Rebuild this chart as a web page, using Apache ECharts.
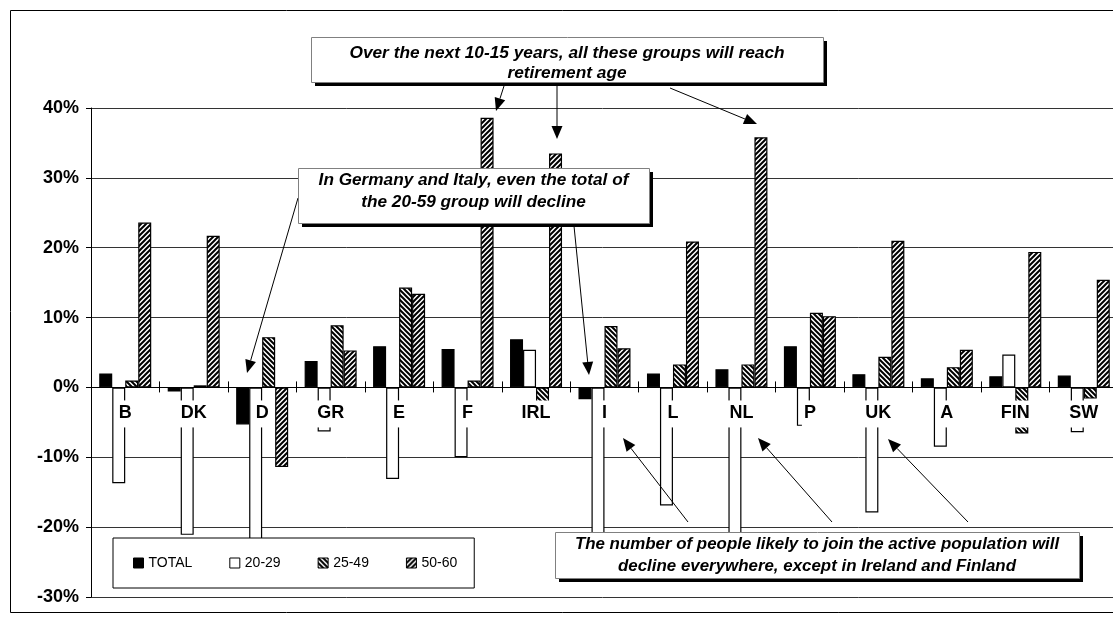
<!DOCTYPE html>
<html>
<head>
<meta charset="utf-8">
<title>Change in working-age population by group</title>
<script src="https://cdn.jsdelivr.net/npm/echarts@6/dist/echarts.min.js"></script>
<style>
  html, body { margin: 0; padding: 0; background: #fff; }
  #chart { width: 1113px; height: 618px; }
</style>
</head>
<body>
<div id="chart"></div>
<script>
// Countries along the category axis
const countries = ['B', 'DK', 'D', 'GR', 'E', 'F', 'IRL', 'I', 'L', 'NL', 'P', 'UK', 'A', 'FIN', 'SW'];

// Percentage change per group
const seriesNames = ['TOTAL', '20-29', '25-49', '50-60'];
const totalGroup = [2.0, -0.6, -5.3, 3.8, 5.9, 5.5, 6.9, -1.7, 2.0, 2.6, 5.9, 1.9, 1.3, 1.6, 1.7];
const group2029 = [-13.7, -21.1, -24.0, -6.3, -13.1, -10.0, 5.4, -24.0, -16.9, -24.0, -5.5, -17.9, -8.5, 4.7, -6.4];
const group2549 = [1.0, 0.3, 7.2, 8.9, 14.3, 1.0, -2.2, 8.8, 3.3, 3.3, 10.7, 4.4, 2.9, -6.6, -1.6];
const group5060 = [23.6, 21.7, -11.4, 5.3, 13.4, 38.6, 33.5, 5.6, 20.9, 35.8, 10.2, 21.0, 5.4, 19.4, 15.4];

// Value axis range (percent)
const yMin = -30;
const yMax = 40;
const yStep = 10;

const FONT = '"Liberation Sans", Arial, sans-serif';

// Small repeating diagonal hatch tiles
function hatch(forward) {
  const s = 5;
  const c = document.createElement('canvas');
  c.width = s; c.height = s;
  const g = c.getContext('2d');
  g.fillStyle = '#fff';
  g.fillRect(0, 0, s, s);
  g.strokeStyle = '#000';
  g.lineWidth = 2;
  g.beginPath();
  if (forward) {
    g.moveTo(-1, s + 1); g.lineTo(s + 1, -1);
    g.moveTo(-2, 2); g.lineTo(2, -2);
    g.moveTo(s - 2, s + 2); g.lineTo(s + 2, s - 2);
  } else {
    g.moveTo(-1, -1); g.lineTo(s + 1, s + 1);
    g.moveTo(s - 2, -2); g.lineTo(s + 2, 2);
    g.moveTo(-2, s - 2); g.lineTo(2, s + 2);
  }
  g.stroke();
  return { image: c, repeat: 'repeat' };
}

const fills = ['#000', '#fff', hatch(false), hatch(true)];
const values = [totalGroup, group2029, group2549, group5060];

const series = seriesNames.map((name, i) => ({
  name: name,
  type: 'bar',
  xAxisIndex: 0,
  yAxisIndex: 0,
  data: values[i],
  barWidth: 13,
  barGap: '0%',
  itemStyle: { color: fills[i], borderColor: '#000', borderWidth: 1.2 },
  emphasis: { disabled: true }
}));

// Annotation callouts: box with drop shadow and centred bold-italic text
function callout(x, y, w, h, lines, cx, lineYs, size) {
  const els = [
    { type: 'rect', z: 101, shape: { x: x + 4, y: y + 4, width: w, height: h }, style: { fill: '#000' } },
    { type: 'rect', z: 102, shape: { x: x + 0.5, y: y + 0.5, width: w, height: h }, style: { fill: '#fff', stroke: '#808080', lineWidth: 1 } }
  ];
  lines.forEach((t, k) => {
    els.push({
      type: 'text', z: 103, x: cx, y: lineYs[k],
      style: { text: t, fill: '#000', font: 'italic bold ' + size + 'px ' + FONT, align: 'center', verticalAlign: 'middle' }
    });
  });
  return els;
}

function arrow(x1, y1, x2, y2) {
  const dx = x2 - x1, dy = y2 - y1;
  const len = Math.sqrt(dx * dx + dy * dy);
  const ux = dx / len, uy = dy / len;
  const hl = 13, hw = 5.5;
  const bx = x2 - ux * hl, by = y2 - uy * hl;
  return [
    { type: 'line', z: 100, shape: { x1: x1, y1: y1, x2: bx, y2: by }, style: { stroke: '#000', lineWidth: 1 } },
    { type: 'polygon', z: 100, shape: { points: [[x2, y2], [bx - uy * hw, by + ux * hw], [bx + uy * hw, by - ux * hw]] }, style: { fill: '#000' } }
  ];
}

const graphics = [].concat(
  [{ type: 'rect', z: 99, shape: { x: 10.5, y: 10.5, width: 1120, height: 602 }, style: { fill: 'none', stroke: '#000', lineWidth: 1 } }],
  arrow(504, 86, 496, 111),
  arrow(557, 84, 557, 139),
  arrow(670, 88, 757, 124),
  arrow(298, 198, 247, 373),
  arrow(574, 226, 589, 375),
  arrow(688, 522, 623, 438),
  arrow(832, 522, 758, 438),
  arrow(968, 522, 888, 439),
  callout(311, 37, 512, 45, ['Over the next 10-15 years, all these groups will reach', 'retirement age'], 567, [53, 73], 17.3),
  callout(298, 168, 351, 55, ['In Germany and Italy, even the total of', 'the 20-59 group will decline'], 473.5, [180, 202], 17.2),
  callout(555, 532, 524, 46, ['The number of people likely to join the active population will', 'decline everywhere, except in Ireland and Finland'], 817, [544, 566], 16.9)
);

const gridH = 489;
const gridRect = { left: 91, top: 108, width: 1027, height: gridH, containLabel: false, outerBoundsMode: 'none' };
// distance from the bottom edge of the plot up to the zero line
const zeroLift = gridH * (0 - yMin) / (yMax - yMin);

// Helper value axis used by the overlay grids that carry the zero-line ticks and labels
function hiddenValueAxis(gridIndex) {
  return {
    type: 'value', gridIndex: gridIndex, min: yMin, max: yMax, interval: yStep,
    axisLine: { show: false }, axisTick: { show: false }, axisLabel: { show: false }, splitLine: { show: false }
  };
}

const option = {
  animation: false,
  backgroundColor: '#fff',
  textStyle: { fontFamily: FONT },
  grid: [
    Object.assign({}, gridRect),
    Object.assign({}, gridRect),
    Object.assign({}, gridRect)
  ],
  legend: {
    data: seriesNames,
    left: 113,
    top: 538,
    orient: 'horizontal',
    icon: 'rect',
    itemWidth: 10,
    itemHeight: 10,
    itemGap: 37,
    padding: [18, 17, 18, 20],
    backgroundColor: '#fff',
    borderColor: '#000',
    borderWidth: 1,
    itemStyle: { borderColor: '#000', borderWidth: 1 },
    textStyle: { fontSize: 14, color: '#000', fontFamily: FONT },
    selectedMode: false,
    z: 4
  },
  xAxis: [
    {
      // category axis carrying the bars
      type: 'category',
      gridIndex: 0,
      data: countries,
      show: false
    },
    {
      // country labels and downward ticks on the zero line
      type: 'category',
      gridIndex: 1,
      data: countries,
      position: 'bottom',
      offset: -zeroLift,
      z: 3,
      axisLine: { show: true, onZero: false, lineStyle: { color: '#000', width: 1 } },
      axisTick: { show: true, length: 5, lineStyle: { color: '#000' } },
      axisLabel: {
        interval: 0,
        margin: 13,
        fontSize: 18,
        fontWeight: 'bold',
        color: '#000',
        fontFamily: FONT,
        backgroundColor: '#fff',
        padding: [4, 2, 5, 2],
        lineHeight: 18
      },
      splitLine: { show: false }
    },
    {
      // upward half of the category boundary ticks
      type: 'category',
      gridIndex: 2,
      data: countries,
      position: 'top',
      z: 3,
      axisLine: { show: true, onZero: true, lineStyle: { color: '#000', width: 1 } },
      axisTick: { show: true, length: 6, lineStyle: { color: '#000' } },
      axisLabel: { show: false },
      splitLine: { show: false }
    }
  ],
  yAxis: [
    {
      type: 'value',
      gridIndex: 0,
      min: yMin,
      max: yMax,
      interval: yStep,
      axisLine: { show: true, lineStyle: { color: '#000', width: 1 } },
      axisTick: { show: true, length: 5, lineStyle: { color: '#000' } },
      axisLabel: {
        formatter: '{value}%',
        fontSize: 18,
        fontWeight: 'bold',
        color: '#000',
        fontFamily: FONT,
        margin: 12
      },
      splitLine: { show: true, lineStyle: { color: '#333', width: 1 } }
    },
    hiddenValueAxis(1),
    hiddenValueAxis(2)
  ],
  series: series,
  graphic: graphics
};

const chart = echarts.init(document.getElementById('chart'), null, { renderer: 'canvas' });
chart.setOption(option);
</script>
</body>
</html>
